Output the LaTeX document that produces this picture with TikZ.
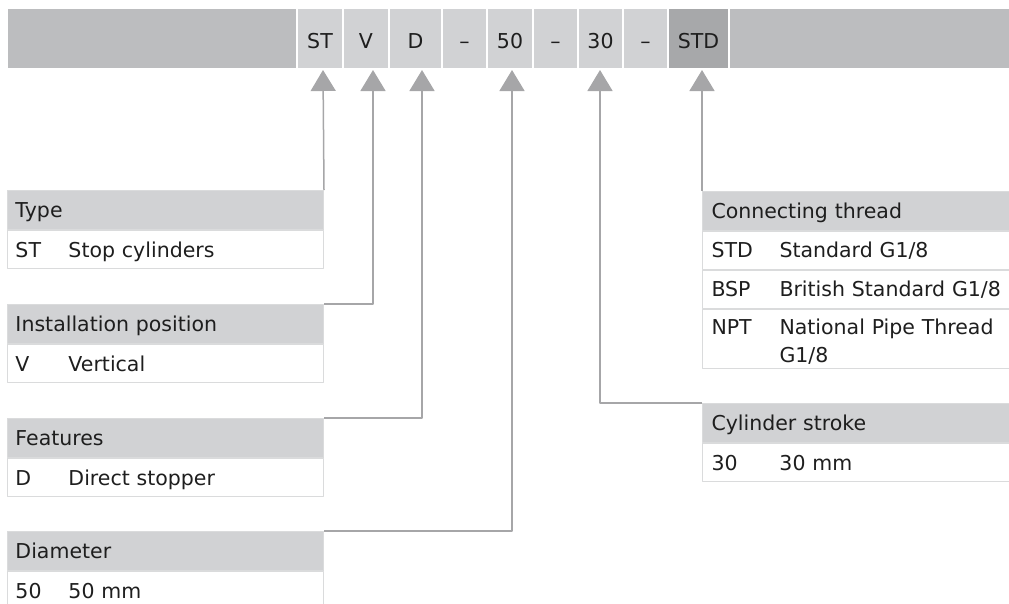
\documentclass[tikz,border=0pt]{standalone}
\usepackage{fontspec}
\setmainfont{DejaVu Sans}
\usetikzlibrary{positioning,arrows.meta}
\definecolor{barGray}{HTML}{BCBDBF}
\definecolor{cellGray}{HTML}{D1D2D4}
\definecolor{selGray}{HTML}{A7A8AA}
\definecolor{rowLine}{HTML}{DADBDC}
\definecolor{lineGray}{HTML}{A6A6A8}
\definecolor{inkGray}{HTML}{1E1E1E}
\tikzset{
  cell/.style={fill=cellGray, draw=white, line width=1.2pt, minimum height=61pt, inner sep=0pt, outer sep=0pt, text height=19pt, text depth=0pt},
  lhead/.style={fill=cellGray, draw=rowLine, line width=1pt, text width=300pt, inner xsep=8pt, inner ysep=0pt, minimum height=39pt, text height=15pt, text depth=0pt, align=left, anchor=north west},
  lrow/.style={draw=rowLine, line width=1pt, text width=300pt, inner xsep=8pt, inner ysep=0pt, minimum height=38pt, text height=15pt, text depth=0pt, align=left},
  rhead/.style={lhead, text width=310pt, inner xsep=9pt},
  rrow/.style={lrow, text width=310pt, inner xsep=9pt},
  conn/.style={draw=lineGray, line width=1.5pt, -{Triangle[width=25pt,length=21pt]}}
}
\begin{document}
\begin{tikzpicture}[x=1pt, y=-1pt, font=\fontsize{20.5pt}{28pt}\selectfont, text=inkGray, line join=round]
\useasboundingbox (0,0) rectangle (1009,603);
\clip (0,0) rectangle (1009,603);
% order code
\node[cell, fill=barGray, minimum width=290pt] (barL) at (152,38.5) {};
\foreach \n/\t/\a/\b in {st/ST/297/343, v/V/343/389, d/D/389/442, sa/\textendash/442/487, dia/50/487/533, sb/\textendash/533/578, str/30/578/623, sc/\textendash/623/668}
  \node[cell, minimum width=\b-\a] (\n) at ({(\a+\b)/2},38.5) {\t};
\node[cell, fill=selGray, minimum width=61pt] (std) at (698.5,38.5) {STD};
\node[cell, fill=barGray, minimum width=282pt] (barR) at (870,38.5) {};
% arrow tips
\coordinate (tST) at (323,70);
\coordinate (tV) at (373,70);
\coordinate (tD) at (422,70);
\coordinate (tDia) at (512,70);
\coordinate (tStr) at (600,70);
\coordinate (tStd) at (702,70);
% left boxes
\node[lhead] (typeHead) at (7,190) {Type};
\node[lrow, below=0pt of typeHead] (typeST) {\makebox[53pt][l]{ST}Stop cylinders};
\node[lhead] (posHead) at (7,304) {Installation position};
\node[lrow, below=0pt of posHead] (posV) {\makebox[53pt][l]{V}Vertical};
\node[lhead] (featHead) at (7,418) {Features};
\node[lrow, below=0pt of featHead] (featD) {\makebox[53pt][l]{D}Direct stopper};
\node[lhead] (diaHead) at (7,531) {Diameter};
\node[lrow, below=0pt of diaHead] (dia50) {\makebox[53pt][l]{50}50 mm};
% right boxes
\node[rhead] (thrHead) at (702,190.5) {Connecting thread};
\node[rrow, below=0pt of thrHead] (thrSTD) {\makebox[68pt][l]{STD}Standard G1/8};
\node[rrow, below=0pt of thrSTD] (thrBSP) {\makebox[68pt][l]{BSP}British Standard G1/8};
\node[rrow, below=0pt of thrBSP, minimum height=59pt, text depth=24pt] (thrNPT) {\makebox[68pt][l]{NPT}\parbox[t]{236pt}{\raggedright National Pipe Thread G1/8}};
\node[rhead] (strHead) at (702,403) {Cylinder stroke};
\node[rrow, below=0pt of strHead] (str30) {\makebox[68pt][l]{30}30 mm};
% connectors
\draw[conn] (typeHead.north east) -- (tST);
\draw[conn] (posHead.north east) -| (tV);
\draw[conn] (featHead.north east) -| (tD);
\draw[conn] (diaHead.north east) -| (tDia);
\draw[conn] (strHead.north west) -| (tStr);
\draw[conn] (thrHead.north west) -- (tStd);
\end{tikzpicture}
\end{document}
